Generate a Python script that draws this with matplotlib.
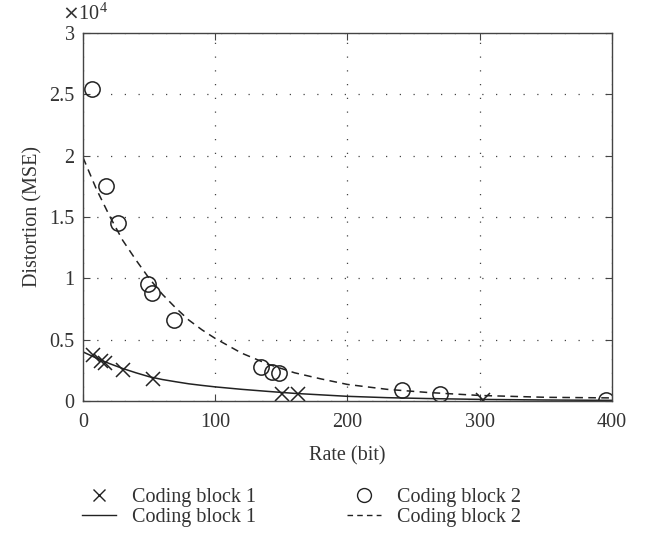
import numpy as np
import matplotlib.pyplot as plt
from matplotlib.lines import Line2D

plt.rcParams['font.family'] = ['Liberation Serif', 'DejaVu Serif']

# measured points (distortion in units of 1e4)
rate1 = [7.8, 13.4, 16.6, 30.5, 53.2, 150.2, 162.3, 302.7]
dist1 = [0.374, 0.33, 0.31, 0.25, 0.18, 0.055, 0.055, 0.01]

rate2 = [6.5, 17.4, 26.7, 49.4, 51.9, 69.0, 134.3, 142.6, 148.4, 241.5, 270.0, 395.5]
dist2 = [2.54, 1.756, 1.45, 0.95, 0.88, 0.66, 0.28, 0.24, 0.23, 0.09, 0.06, 0.01]

# model curves
curve_rate = [0, 10, 20, 30, 40, 50, 60, 70, 80, 90, 100, 120, 140, 160, 180,
              200, 230, 260, 300, 350, 400]
curve1 = [0.40, 0.35, 0.305, 0.265, 0.23, 0.198, 0.175, 0.157, 0.14, 0.127, 0.115,
          0.095, 0.078, 0.062, 0.05, 0.038, 0.027, 0.02, 0.013, 0.008, 0.005]
curve2 = [1.985, 1.73, 1.51, 1.31, 1.15, 1.00, 0.87, 0.76, 0.66, 0.58, 0.51,
          0.39, 0.30, 0.23, 0.18, 0.135, 0.095, 0.07, 0.045, 0.03, 0.025]

ink = '#222222'
txt = '#333333'
fs = 14.5

fig = plt.figure(figsize=(6.46, 5.46), dpi=100)
ax = fig.add_axes([0.1285, 0.2656, 0.8185, 0.674])

ax.plot(curve_rate, curve1, '-', color=ink, lw=1.1)
ax.plot(curve_rate, curve2, '--', color=ink, lw=1.1, dashes=(5, 3.5))
ax.plot(rate1, dist1, 'x', color=ink, ms=10, mew=1.1, ls='none')
ax.plot(rate2, dist2, 'o', mfc='none', mec=ink, ms=11, mew=1.1, ls='none')

ax.set_xlim(0, 400)
ax.set_ylim(0, 3)
ax.set_xticks([0, 100, 200, 300, 400])
ax.set_yticks([0, 0.5, 1, 1.5, 2, 2.5, 3])
ax.set_yticklabels(['0', '0.5', '1', '1.5', '2', '2.5', '3'])
ax.grid(True, ls=(0, (1, 10)), color='#444444', lw=0.9)
ax.tick_params(direction='in', top=True, right=True, length=5,
               labelsize=fs, colors='#444444', labelcolor=txt)
ax.tick_params(axis='x', pad=9)
ax.tick_params(axis='y', pad=6)
for s in ax.spines.values():
    s.set_color('#444444')
    s.set_linewidth(1.0)

ax.set_xlabel('Rate (bit)', fontsize=fs, color=txt, labelpad=10)
ax.set_ylabel('Distortion (MSE)', fontsize=fs, color=txt, labelpad=5)
fig.text(62 / 646, 1 - 14 / 546, r'$\times\mathregular{10^4}$',
         fontsize=fs, color=txt, ha='left', va='center')

handles = [
    Line2D([], [], ls='none', marker='x', color=ink, ms=9, mew=1.0),
    Line2D([], [], ls='-', color=ink, lw=1.0),
    Line2D([], [], ls='none', marker='o', mfc='none', mec=ink, ms=10, mew=1.0),
    Line2D([], [], ls='--', color=ink, lw=1.0, dashes=(4, 3)),
]
labels = ['Coding block 1', 'Coding block 1', 'Coding block 2', 'Coding block 2']
leg = fig.legend(handles, labels, ncol=2, loc='center', bbox_to_anchor=(0.467, 0.071),
                 frameon=False, fontsize=fs, handlelength=1.7, handletextpad=0.8,
                 columnspacing=4.5, labelspacing=0.05)
for t in leg.get_texts():
    t.set_color(txt)

fig.savefig('out.png', dpi=100)
